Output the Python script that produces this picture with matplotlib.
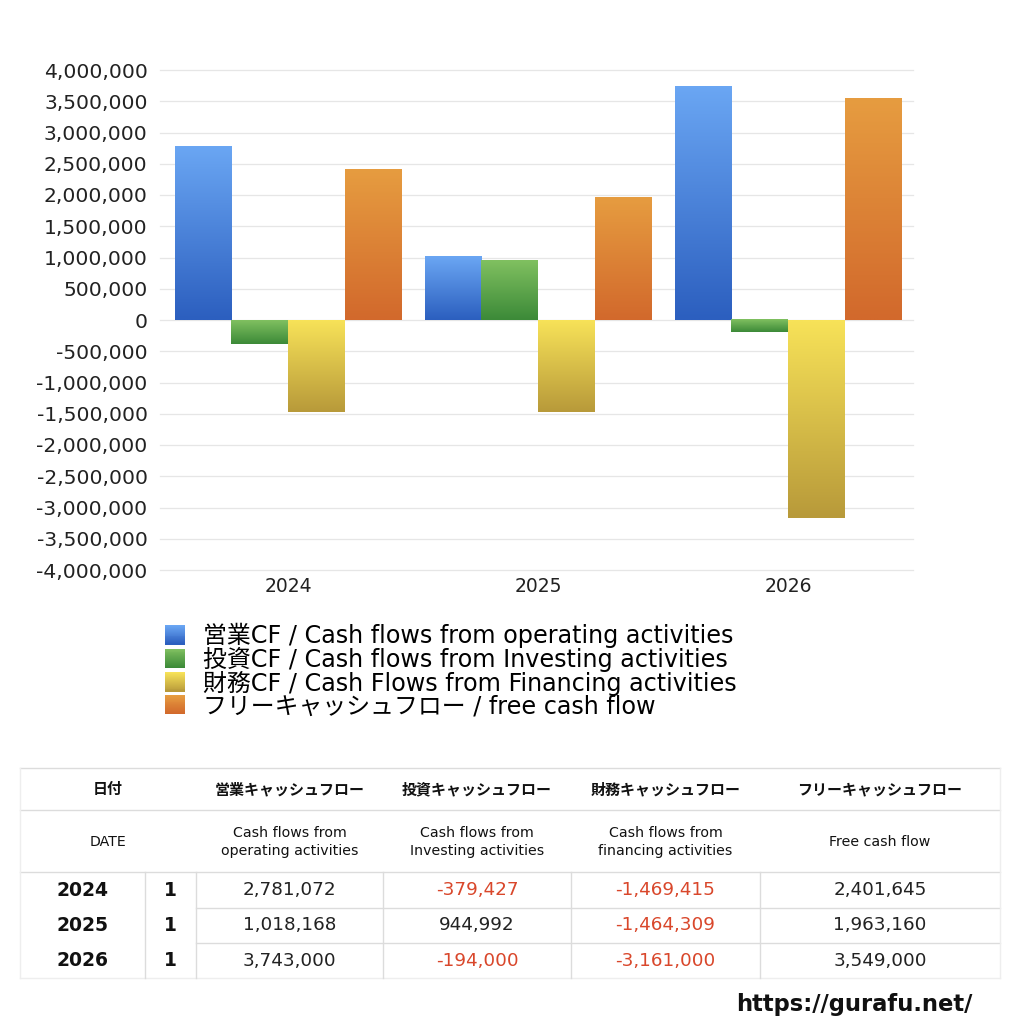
import numpy as np
import matplotlib
matplotlib.use("Agg")
import matplotlib.pyplot as plt
from matplotlib.patches import Rectangle
from matplotlib.legend_handler import HandlerBase
from matplotlib.colors import to_rgb

plt.rcParams['font.family'] = ['DejaVu Sans', 'Noto Sans CJK JP']

# ---- data ----
years = ["2024", "2025", "2026"]
months = ["1", "1", "1"]
operating = [2781072, 1018168, 3743000]
investing = [-379427, 944992, -194000]
financing = [-1469415, -1464309, -3161000]
free_cf = [2401645, 1963160, 3549000]

series_labels = [
    "営業CF / Cash flows from operating activities",
    "投資CF / Cash flows from Investing activities",
    "財務CF / Cash Flows from Financing activities",
    "フリーキャッシュフロー / free cash flow",
]
table_head_jp = ["日付", "営業キャッシュフロー", "投資キャッシュフロー", "財務キャッシュフロー", "フリーキャッシュフロー"]
table_head_en = ["DATE", "Cash flows from\noperating activities", "Cash flows from\nInvesting activities",
                 "Cash flows from\nfinancing activities", "Free cash flow"]
yticks = list(range(-4000000, 4000001, 500000))

# gradient colours (top, bottom)
grads = [("#6aa6f3", "#2c5fbf"), ("#80c060", "#3c8a38"),
         ("#f7e258", "#b89a3a"), ("#e69c40", "#d2692c")]

def grad_img(top, bottom, n=64):
    t = np.linspace(0, 1, n)[:, None]
    a = np.array(to_rgb(top)); b = np.array(to_rgb(bottom))
    return (a * (1 - t) + b * t)[:, None, :]

fig = plt.figure(figsize=(10.24, 10.24), dpi=100)
fig.patch.set_facecolor("white")

ax = fig.add_axes([160/1024, 1-570/1024, 753/1024, 500/1024])
x = np.arange(len(years))
w = 0.227
all_series = [operating, investing, financing, free_cf]
bars_list = []
for i, vals in enumerate(all_series):
    bars = ax.bar(x + (i - 1.5) * w, vals, width=w, color="none", edgecolor="none", zorder=3)
    bars_list.append(bars)
    for b in bars:
        x0 = b.get_x(); x1 = x0 + b.get_width()
        y0 = min(b.get_y(), b.get_y() + b.get_height())
        y1 = max(b.get_y(), b.get_y() + b.get_height())
        ax.imshow(grad_img(*grads[i]), extent=[x0, x1, y0, y1], origin="upper",
                  aspect="auto", zorder=3, interpolation="bilinear")

ax.set_xlim(-0.512, 2.5)
ax.set_ylim(-4000000, 4000000)
ax.set_yticks(yticks)
ax.set_yticklabels([f"{v:,}" for v in yticks], fontsize=14.6, color="#222222")
ax.set_xticks(x)
ax.set_xticklabels(years, fontsize=13.5, color="#222222")
ax.tick_params(axis='y', length=0, pad=9)
ax.tick_params(axis='x', length=0, pad=5)
ax.grid(axis="y", color="#e6e6e6", linewidth=0.9, zorder=0)
for gl in ax.get_ygridlines():
    gl.set_clip_on(False)
for s in ax.spines.values():
    s.set_visible(False)
ax.set_axisbelow(True)


class HandlerGrad(HandlerBase):
    def __init__(self, top, bottom):
        super().__init__()
        self.top, self.bottom = top, bottom

    def create_artists(self, legend, orig_handle, xdescent, ydescent, width, height, fontsize, trans):
        n = 20
        arts = []
        a = np.array(to_rgb(self.top)); b = np.array(to_rgb(self.bottom))
        for k in range(n):
            t = k / (n - 1)
            c = a * (1 - t) + b * t
            r = Rectangle((-xdescent, -ydescent + height * (1 - (k + 1) / n)), width, height / n + 0.3,
                          facecolor=c, edgecolor="none", transform=trans)
            arts.append(r)
        return arts

handles = [bl[0] for bl in bars_list]
hmap = {h: HandlerGrad(*grads[i]) for i, h in enumerate(handles)}
fig.legend(handles, series_labels, handler_map=hmap, loc="upper left",
           bbox_to_anchor=(165/1024, 1-623/1024), frameon=False, fontsize=17.2,
           handlelength=0.85, handleheight=0.85, handletextpad=0.75, labelspacing=-0.06,
           borderaxespad=0, borderpad=0)

# ---- table (overlay in pixel coordinates) ----
tab = fig.add_axes([0, 0, 1, 1], zorder=5)
tab.set_xlim(0, 1024); tab.set_ylim(1024, 0); tab.axis("off")
lc = "#dcdcdc"
colx = [20, 145, 196, 383, 571, 760, 1000]
rowy = [768, 810, 872, 908, 943, 978]
# horizontal lines
tab.plot([20, 1000], [768, 768], color=lc, lw=1)
tab.plot([20, 1000], [810, 810], color=lc, lw=1)
tab.plot([20, 1000], [872, 872], color=lc, lw=1)
tab.plot([196, 1000], [908, 908], color=lc, lw=1)
tab.plot([196, 1000], [943, 943], color=lc, lw=1)
tab.plot([20, 1000], [978, 978], color="#eeeeee", lw=1)
# vertical lines
tab.plot([20, 20], [768, 978], color="#eeeeee", lw=1)
tab.plot([1000, 1000], [768, 978], color="#eeeeee", lw=1)
for cx in colx[1:6]:
    tab.plot([cx, cx], [872, 978], color=lc, lw=1)

jp = ['Noto Sans CJK JP', 'DejaVu Sans']
centers = [(colx[0] + colx[2]) / 2] + [(colx[k] + colx[k + 1]) / 2 for k in range(2, 6)]
for k, (hj, he) in enumerate(zip(table_head_jp, table_head_en)):
    tab.text(centers[k], 789, hj, ha="center", va="center", fontsize=10.8, fontweight="bold",
             family=jp, color="#111111")
    tab.text(centers[k], 842, he, ha="center", va="center", fontsize=10.2, color="#111111",
             linespacing=1.4, family=['DejaVu Sans'])

cols = [operating, investing, financing, free_cf]
for r in range(len(years)):
    yc = (rowy[r + 2] + rowy[r + 3]) / 2
    tab.text((colx[0] + colx[1]) / 2, yc, years[r], ha="center", va="center",
             fontsize=13.5, fontweight="bold", color="#111111")
    tab.text((colx[1] + colx[2]) / 2, yc, months[r], ha="center", va="center",
             fontsize=13.5, fontweight="bold", color="#111111")
    for c, vals in enumerate(cols):
        v = vals[r]
        tab.text((colx[c + 2] + colx[c + 3]) / 2, yc, f"{v:,}", ha="center", va="center",
                 fontsize=13.2, color="#d9472b" if v < 0 else "#222222")

tab.text(972, 1004, "https://gurafu.net/", ha="right", va="center", fontsize=16.3,
         fontweight="bold", color="#111111")

fig.savefig("out.png", dpi=100, facecolor="white")
